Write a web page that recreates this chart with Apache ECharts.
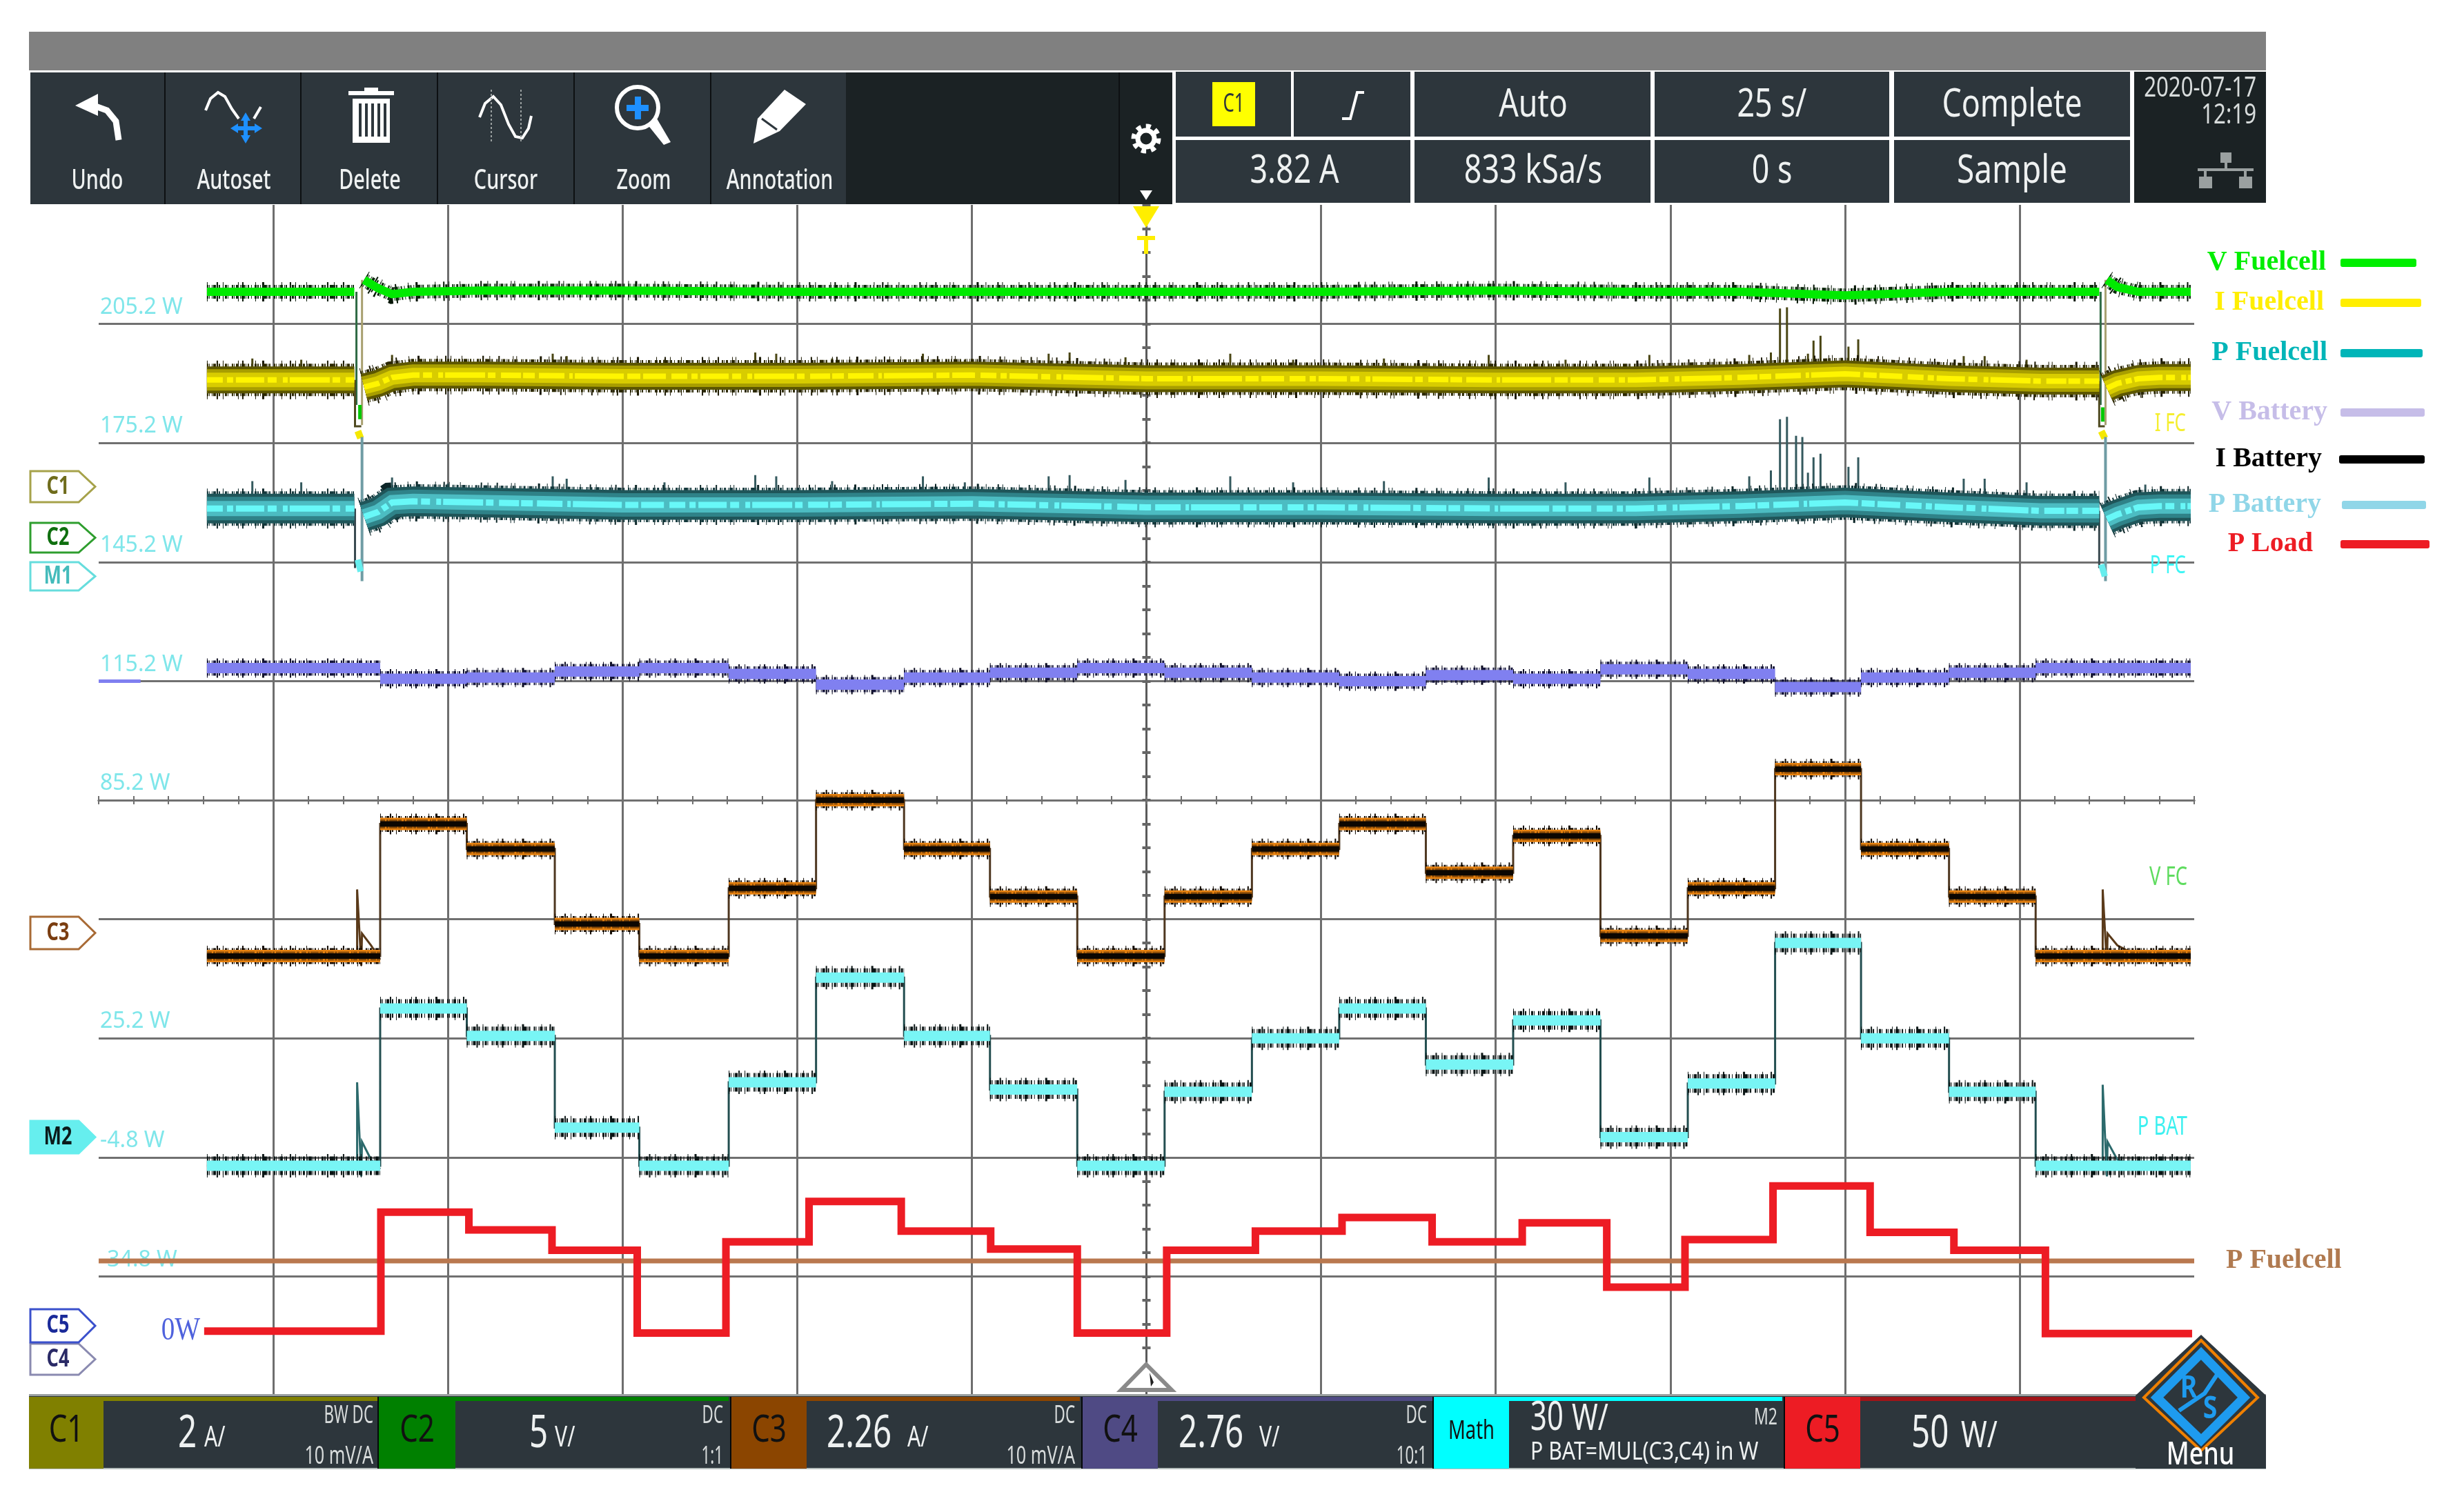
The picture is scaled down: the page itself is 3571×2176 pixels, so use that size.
<!doctype html>
<html>
<head>
    <meta charset="utf-8">
    <title>Fuelcell scope capture</title>
    <script src="https://cdn.jsdelivr.net/npm/echarts@6/dist/echarts.min.js"></script>
    <style>
        html, body { margin: 0; padding: 0; background: #fff; }
        #main { width: 3571px; height: 2176px; }
    </style>
</head>
<body>
    <div id="main"></div>
    <script type="text/javascript">
        // x is seconds (25 s/div), y is screen divisions from the centre line
        var yTickLabels = ['', '-34.8 W', '-4.8 W', '25.2 W', '', '85.2 W', '115.2 W', '145.2 W', '175.2 W', '205.2 W', ''];

        // fuel cell traces, centre of the noise band (null = no band during the pulse)
        var fcTimes = [-134.5, -120, -113.4, -112.9, -112, -110, -108, -105, -95, -75, -50, -25, 0, 25, 50, 70, 85, 100, 115, 128, 136.4, 136.8, 137.5, 139, 142, 145, 149.5];
        var vFuelcell = [4.27, 4.27, 4.27, null, 4.37, 4.30, 4.25, 4.27, 4.28, 4.28, 4.27, 4.27, 4.27, 4.27, 4.28, 4.27, 4.27, 4.24, 4.27, 4.27, 4.27, null, 4.37, 4.31, 4.27, 4.27, 4.27];
        var iFuelcell = [3.53, 3.53, 3.53, null, 3.47, 3.50, 3.55, 3.57, 3.57, 3.56, 3.56, 3.57, 3.54, 3.54, 3.53, 3.53, 3.55, 3.58, 3.54, 3.52, 3.52, null, 3.46, 3.50, 3.54, 3.55, 3.55];
        var pFuelcell = [2.45, 2.45, 2.45, null, 2.38, 2.42, 2.50, 2.51, 2.50, 2.48, 2.48, 2.49, 2.46, 2.46, 2.45, 2.45, 2.47, 2.50, 2.46, 2.43, 2.43, null, 2.36, 2.40, 2.46, 2.47, 2.47];

        // start up and shut down pulses, falling and rising edge
        var vFuelcellFall = [[-113.1, 4.27], [-113.1, 3.32], [-113.1, null], [136.6, 4.27], [136.6, 3.32]];
        var vFuelcellRise = [[-112.3, 3.15], [-112.3, 4.37], [-112.3, null], [137.3, 3.15], [137.3, 4.37]];
        var iFuelcellFall = [[-113.3, 3.53], [-113.3, 3.14], [-112.4, 3.14], [-112.4, null], [136.4, 3.52], [136.4, 3.14], [137.2, 3.14]];
        var pFuelcellFall = [[-113.3, 2.45], [-113.3, 1.95], [-113.3, null], [136.4, 2.43], [136.4, 1.95]];
        var pFuelcellRise = [[-112.3, 1.84], [-112.3, 3.05], [-112.3, null], [137.3, 1.84], [137.3, 3.05]];
        var vFuelcellBlob = [[-112.6, 3.32], [-112.6, 3.2], [-112.6, null], [136.9, 3.3], [136.9, 3.18]];
        var iFuelcellBlob = [[-112.9, 3.1], [-112.5, 3.04], [-112.5, null], [136.7, 3.1], [137.2, 3.04]];
        var pFuelcellBlob = [[-112.9, 2.02], [-112.5, 1.92], [-112.5, null], [136.7, 1.98], [137.2, 1.88]];

        // spikes standing out of the bands
        var iSpikeTimes = [-128, -121, -108, -100, -85, -83, -69, -56, -53, -45, -32, -26, -14, -11, -3, 12, 21, 34, 49, 60, 72, 86.3, 89.4, 90.7, 91.7, 94.7, 95.5, 96.5, 100.5, 101.9, 117, 120, 126, 143];
        var iSpikeTops = [3.71, 3.70, 3.74, 3.69, 3.75, 3.73, 3.70, 3.76, 3.75, 3.71, 3.75, 3.70, 3.75, 3.76, 3.72, 3.75, 3.70, 3.71, 3.74, 3.70, 3.74, 3.74, 3.76, 4.13, 4.14, 3.75, 3.86, 3.90, 3.81, 3.87, 3.73, 3.73, 3.70, 3.68];
        var pSpikeTimes = [-128, -121, -108, -100, -85, -83, -69, -56, -53, -45, -32, -26, -14, -11, -3, 12, 21, 34, 49, 60, 72, 86.3, 89.4, 90.7, 91.7, 93, 93.9, 94.7, 95.5, 96.5, 100.5, 101.9, 117, 120, 126, 143];
        var pSpikeTops = [2.68, 2.67, 2.71, 2.66, 2.72, 2.70, 2.67, 2.73, 2.72, 2.68, 2.72, 2.67, 2.72, 2.73, 2.69, 2.72, 2.67, 2.68, 2.71, 2.67, 2.71, 2.72, 2.77, 3.20, 3.22, 3.06, 3.05, 2.75, 2.88, 2.91, 2.80, 2.88, 2.70, 2.70, 2.67, 2.65];

        // battery traces, one level per load step
        var stepTimes = [-134.5, -109.7, -97.3, -84.7, -72.6, -59.8, -47.3, -34.7, -22.4, -9.9, 2.6, 15.1, 27.6, 40, 52.5, 65, 77.5, 90, 102.3, 114.9, 127.3, 149.5];
        var vBattery = [1.11, 1.02, 1.03, 1.08, 1.11, 1.06, 0.97, 1.03, 1.07, 1.11, 1.07, 1.03, 1.00, 1.05, 1.02, 1.10, 1.06, 0.95, 1.03, 1.07, 1.11];
        var iBattery = [-1.31, -0.20, -0.41, -1.04, -1.31, -0.74, 0.00, -0.41, -0.81, -1.31, -0.81, -0.41, -0.20, -0.61, -0.30, -1.14, -0.74, 0.26, -0.41, -0.81, -1.31];
        var pBattery = [-3.07, -1.75, -1.98, -2.75, -3.07, -2.37, -1.49, -1.98, -2.43, -3.07, -2.45, -2.00, -1.75, -2.22, -1.85, -2.83, -2.38, -1.20, -2.00, -2.45, -3.07];
        var iBatteryPulse = [[-113, -1.31], [-113, -0.75], [-112.4, -1.39], [-112.3, -1.12], [-111, -1.22], [-109.7, -1.34], [-109.7, null], [136.9, -1.31], [136.9, -0.75], [137.5, -1.39], [137.6, -1.12], [139, -1.22], [142, -1.31]];
        var pBatteryPulse = [[-113, -3.07], [-113, -2.37], [-112.4, -3.16], [-112.3, -2.87], [-111, -3.02], [-109.7, -3.10], [-109.7, null], [136.9, -3.07], [136.9, -2.39], [137.5, -3.16], [137.6, -2.87], [139, -3.02], [142, -3.08]];
        var vBatteryStubTimes = [-150, -144];
        var vBatteryStub = [1.0, 1.0];

        // load profile and the flat fuel cell power
        var loadTimes = [-134.9, -109.6, -97, -85.1, -72.9, -60.2, -48.3, -35.1, -22.3, -9.9, 2.9, 15.6, 28, 40.9, 53.8, 65.9, 77.1, 89.7, 103.6, 115.6, 128.7, 149.7];
        var pLoad = [-4.46, -3.46, -3.61, -3.78, -4.475, -3.71, -3.37, -3.62, -3.77, -4.475, -3.78, -3.62, -3.505, -3.71, -3.55, -4.09, -3.69, -3.24, -3.63, -3.78, -4.48];
        var pFuelcellTimes = [-150, 150];
        var pFuelcellFlat = [-3.87, -3.87];

        // dash patterns that give the strokes their grainy scope look
        var spikeDash = [1, 13, 2, 7, 1, 21, 1, 5, 2, 17, 1, 9, 3, 25, 1, 11, 2, 6, 1, 15, 1, 29, 2, 8, 1, 12, 2, 19, 1, 4, 1, 33, 3, 10, 1, 16, 2, 5, 1, 23];
        var grainDash = [2, 1, 1, 3, 1, 1, 4, 2, 1, 1, 2, 4, 1, 2, 3, 1, 1, 5, 2, 1, 1, 2, 3, 3, 1, 1, 5, 1, 1, 2, 2, 3, 1, 4, 3, 1, 2, 2, 1, 3, 6, 1, 1, 1, 2, 5];
        var mottleDash = [7, 2, 3, 1, 12, 1, 5, 3, 2, 2, 9, 1, 4, 1, 16, 3, 2, 1, 6, 2, 11, 1, 3, 2, 8, 1, 19, 2, 4, 3];
        var sheenDash = [23, 6, 9, 4, 41, 5, 13, 9, 7, 3, 58, 4, 11, 8, 29, 3, 17, 6, 37, 7, 5, 3, 71, 5, 19, 4, 33, 8];

        function curve(times, values) {
            return times.map(function (t, i) { return [t, values[i]]; });
        }
        function stairs(times, levels) {
            var out = [];
            levels.forEach(function (lv, i) { out.push([times[i], lv], [times[i + 1], lv]); });
            return out;
        }
        function treads(times, levels) {
            var out = [];
            levels.forEach(function (lv, i) { out.push([times[i], lv], [times[i + 1], lv], [times[i + 1], null]); });
            return out;
        }
        function spikes(times, tops, base) {
            var out = [];
            times.forEach(function (t, i) { out.push([t, base], [t, tops[i]], [t, null]); });
            return out;
        }
        function trace(name, data, color, width, dash, z) {
            return {
                name: name, type: 'line', data: data, symbol: 'none', silent: true, z: z || 3,
                animation: false, legendHoverLink: false,
                lineStyle: { color: color, width: width, type: dash || 'solid', join: 'miter', cap: 'butt' },
                itemStyle: { color: color }
            };
        }

        var vBand = curve(fcTimes, vFuelcell), iBand = curve(fcTimes, iFuelcell), pBand = curve(fcTimes, pFuelcell);
        var vTreads = treads(stepTimes, vBattery), iTreads = treads(stepTimes, iBattery), pTreads = treads(stepTimes, pBattery);

        var series = [
            trace('P Fuelcell (flat)', curve(pFuelcellTimes, pFuelcellFlat), '#b9784f', 7),

            trace('V Fuelcell', vFuelcellFall, '#2f6b45', 3),
            trace('V Fuelcell', vFuelcellRise, '#a8a070', 3),
            trace('V Fuelcell', vFuelcellBlob, '#00c800', 5),
            trace('V Fuelcell', vBand, '#051505', 28, spikeDash),
            trace('V Fuelcell', vBand, '#0c2a0c', 20, grainDash),
            trace('V Fuelcell', vBand, '#00ea00', 12),

            trace('I Fuelcell', iFuelcellFall, '#4f4a20', 3),
            trace('I Fuelcell', spikes(iSpikeTimes, iSpikeTops, 3.6), '#4a4614', 3),
            trace('I Fuelcell', iBand, '#1a1700', 56, spikeDash),
            trace('I Fuelcell', iBand, '#2b2700', 47, grainDash),
            trace('I Fuelcell', iBand, '#5c5600', 39),
            trace('I Fuelcell', iBand, '#a89e00', 31),
            trace('I Fuelcell', iBand, '#d8cc00', 21),
            trace('I Fuelcell', iBand, '#fff500', 8, sheenDash),
            trace('I Fuelcell', iFuelcellBlob, '#f5e800', 10),

            trace('P Fuelcell', pFuelcellFall, '#3a4a50', 3),
            trace('P Fuelcell', pFuelcellRise, '#6f9ca4', 4),
            trace('P Fuelcell', spikes(pSpikeTimes, pSpikeTops, 2.55), '#34595e', 3),
            trace('P Fuelcell', pBand, '#0d2628', 58, spikeDash),
            trace('P Fuelcell', pBand, '#14383c', 50, grainDash),
            trace('P Fuelcell', pBand, '#1f5559', 43),
            trace('P Fuelcell', pBand, '#2f8288', 34),
            trace('P Fuelcell', pBand, '#4cbcc2', 22),
            trace('P Fuelcell', pBand, '#68f8f8', 9, sheenDash),
            trace('P Fuelcell', pFuelcellBlob, '#66eeee', 9),

            trace('V Battery', curve(vBatteryStubTimes, vBatteryStub), '#7f7ff0', 5),
            trace('V Battery', vTreads, '#0c0c20', 28, spikeDash),
            trace('V Battery', vTreads, '#14143a', 22, grainDash),
            trace('V Battery', vTreads, '#8080f0', 15),

            trace('I Battery', stairs(stepTimes, iBattery), '#4e3720', 3),
            trace('I Battery', iBatteryPulse, '#5a3a1a', 3),
            trace('I Battery', iTreads, '#120a02', 30, spikeDash),
            trace('I Battery', iTreads, '#120a02', 23, grainDash),
            trace('I Battery', iTreads, '#e8820f', 18),
            trace('I Battery', iTreads, '#8a4c08', 13, mottleDash),
            trace('I Battery', iTreads, '#0c0702', 8),

            trace('P Battery', stairs(stepTimes, pBattery), '#234e50', 3),
            trace('P Battery', pBatteryPulse, '#2c6a6c', 3),
            trace('P Battery', pTreads, '#101a1a', 34, spikeDash),
            trace('P Battery', pTreads, '#0a1414', 27, grainDash),
            trace('P Battery', pTreads, '#78f5f5', 15),

            trace('P Load', stairs(loadTimes, pLoad), '#ed1c24', 11, null, 5)
        ];
        series[0].endLabel = {
            show: true, formatter: 'P Fuelcell', distance: 46, color: '#b07a50',
            fontFamily: 'Liberation Serif', fontWeight: 'bold', fontSize: 40
        };

        // legend on the right of the screen
        var legendNames = ['V Fuelcell', 'I Fuelcell', 'P Fuelcell', 'V Battery', 'I Battery', 'P Battery', 'P Load'];
        var legendColors = ['#00ee00', '#ffee00', '#00b5b8', '#c6bde8', '#000000', '#90d6e8', '#ed1c24'];
        var legendMiddles = [379, 437, 510, 596, 664, 730, 787];
        var legendTextEnds = [3368, 3365, 3370, 3370, 3362, 3361, 3349];
        var legendLineStarts = [3392, 3392, 3392, 3392, 3390, 3394, 3392];
        var legendLineEnds = [3502, 3509, 3511, 3514, 3514, 3516, 3521];
        var legends = legendNames.map(function (name, i) {
            return {
                data: [{ name: name, icon: 'roundRect', itemStyle: { color: legendColors[i] } }],
                align: 'right', orient: 'horizontal', selectedMode: false, padding: 0,
                right: 3571 - legendLineEnds[i], top: legendMiddles[i] - 18,
                itemWidth: legendLineEnds[i] - legendLineStarts[i], itemHeight: 12, itemGap: 0,
                textStyle: {
                    color: legendColors[i], fontFamily: 'Liberation Serif', fontWeight: 'bold', fontSize: 40,
                    padding: [0, legendLineStarts[i] - legendTextEnds[i] - 8, 0, 0]
                }
            };
        });

        // scope screen chrome
        var chrome = [];
        var panel = '#2d363c', panelDark = '#1b2224', label = '#eef1f1';
        function box(x0, y0, x1, y1, fill) {
            chrome.push({ type: 'rect', z: 10, silent: true, shape: { x: x0, y: y0, width: x1 - x0, height: y1 - y0 }, style: { fill: fill } });
        }
        function txt(x, y, s, size, fill, align, squeeze, weight) {
            chrome.push({
                type: 'text', z: 12, silent: true, x: x, y: y, scaleX: squeeze || 0.7,
                style: {
                    text: s, fill: fill, textAlign: align || 'center', textVerticalAlign: 'middle',
                    font: (weight || 'normal') + ' ' + size + 'px "Noto Sans"'
                }
            });
        }
        function poly(points, fill) {
            chrome.push({ type: 'polygon', z: 11, silent: true, shape: { points: points }, style: { fill: fill } });
        }
        function outline(points, stroke, width, closed, fill) {
            chrome.push({
                type: closed ? 'polygon' : 'polyline', z: 11, silent: true, shape: { points: points },
                style: { stroke: stroke, lineWidth: width, fill: fill || 'none' }
            });
        }

        box(42, 46, 3284, 102, '#808080');
        box(44, 105, 1226, 296, panel);
        box(1226, 105, 1699, 296, panelDark);
        box(1621, 105, 1623, 296, '#0d1012');
        [239, 436, 634, 832, 1030].forEach(function (x) { box(x - 1, 105, x + 1, 296, '#0d1012'); });
        [['Undo', 141], ['Autoset', 339], ['Delete', 536], ['Cursor', 733], ['Zoom', 933], ['Annotation', 1130]].forEach(function (b) {
            txt(b[1], 263, b[0], 40, label, 'center', 0.72, '500');
        });

        // toolbar icons
        outline([[133, 152], [155, 160], [168, 176], [172, 203]], '#fff', 9);
        poly([[109, 153], [142, 136], [142, 168]], '#fff');
        outline([[298, 160], [305, 143], [316, 134], [326, 140], [336, 158], [346, 172]], '#fff', 4);
        outline([[368, 172], [378, 155]], '#fff', 4);
        outline([[356, 172], [356, 200]], '#1e90ff', 6);
        outline([[340, 186], [374, 186]], '#1e90ff', 6);
        poly([[356, 163], [349, 175], [363, 175]], '#1e90ff');
        poly([[356, 208], [349, 196], [363, 196]], '#1e90ff');
        poly([[334, 186], [345, 179], [345, 193]], '#1e90ff');
        poly([[380, 186], [369, 179], [369, 193]], '#1e90ff');
        box(505, 132, 571, 138, '#fff');
        box(528, 127, 548, 133, '#fff');
        box(511, 143, 565, 207, '#fff');
        [520, 529, 538, 547, 556].forEach(function (x) { box(x, 150, x + 4, 198, panel); });
        outline([[695, 170], [703, 150], [715, 140], [726, 152], [737, 180], [747, 198], [757, 200], [766, 186], [770, 168]], '#fff', 4);
        chrome.push({ type: 'line', z: 11, silent: true, shape: { x1: 712, y1: 130, x2: 712, y2: 208 }, style: { stroke: '#9aa0a0', lineWidth: 2, lineDash: [3, 3] } });
        chrome.push({ type: 'line', z: 11, silent: true, shape: { x1: 755, y1: 130, x2: 755, y2: 208 }, style: { stroke: '#9aa0a0', lineWidth: 2, lineDash: [3, 3] } });
        chrome.push({ type: 'circle', z: 11, silent: true, shape: { cx: 924, cy: 156, r: 30 }, style: { stroke: '#fff', lineWidth: 6, fill: 'none' } });
        box(908, 152, 940, 161, '#1e90ff');
        box(920, 140, 929, 173, '#1e90ff');
        poly([[938, 180], [952, 172], [972, 206], [962, 210]], '#fff');
        poly([[1137, 130], [1168, 151], [1130, 190], [1092, 208], [1098, 172]], '#fff');
        outline([[1104, 172], [1126, 188]], panel, 3);

        // gear and drop down arrow
        chrome.push({ type: 'circle', z: 11, silent: true, shape: { cx: 1661, cy: 201, r: 18 }, style: { stroke: '#fff', lineWidth: 7, fill: 'none', lineDash: [7, 7] } });
        chrome.push({ type: 'circle', z: 11, silent: true, shape: { cx: 1661, cy: 201, r: 12 }, style: { stroke: '#fff', lineWidth: 7, fill: 'none' } });
        poly([[1652, 276], [1670, 276], [1661, 290]], '#fff');

        // acquisition panel
        [[1704, 104, 1871, 198], [1875, 104, 2044, 198], [2050, 104, 2392, 198], [2398, 104, 2738, 198], [2745, 104, 3087, 198],
            [1704, 203, 2044, 294], [2050, 203, 2392, 294], [2398, 203, 2738, 294], [2745, 203, 3087, 294]].forEach(function (c) {
                box(c[0], c[1], c[2], c[3], panel);
            });
        box(3093, 104, 3284, 294, panelDark);
        box(1757, 119, 1819, 183, '#ffff00');
        txt(1788, 151, 'C1', 38, '#2d363c', 'center', 0.68);
        outline([[1945, 172], [1957, 172], [1967, 134], [1977, 134]], '#fff', 4);
        txt(2222, 153, 'Auto', 56, label, 'center', 0.8);
        txt(2568, 153, '25 s/', 56, label, 'center', 0.8);
        txt(2916, 153, 'Complete', 56, label, 'center', 0.8);
        txt(1876, 249, '3.82 A', 56, label, 'center', 0.8);
        txt(2222, 249, '833 kSa/s', 56, label, 'center', 0.8);
        txt(2568, 249, '0 s', 56, label, 'center', 0.8);
        txt(2916, 249, 'Sample', 56, label, 'center', 0.82);
        txt(3270, 129, '2020-07-17', 40, '#d8dcdc', 'right', 0.78);
        txt(3270, 168, '12:19', 40, '#d8dcdc', 'right', 0.78);
        box(3218, 221, 3234, 236, '#9aa0a0');
        box(3224, 236, 3228, 246, '#9aa0a0');
        box(3185, 244, 3266, 248, '#9aa0a0');
        box(3194, 248, 3198, 256, '#9aa0a0');
        box(3252, 248, 3256, 256, '#9aa0a0');
        box(3187, 256, 3206, 273, '#9aa0a0');
        box(3245, 256, 3264, 273, '#9aa0a0');

        // trigger markers
        poly([[1642, 299], [1680, 299], [1661, 330]], '#ffee00');
        box(1648, 342, 1674, 348, '#ffee00');
        box(1658, 342, 1664, 368, '#ffee00');
        outline([[1661, 1978], [1625, 2015], [1698, 2015]], '#8a8a8a', 6, true, '#fff');
        poly([[1666, 1990], [1672, 2004], [1668, 2010]], '#222');

        // channel tags on the left
        function tag(y0, y1, s, stroke, fill, color) {
            var mid = (y0 + y1) / 2;
            outline([[44, y0], [114, y0], [138, mid], [114, y1], [44, y1]], stroke, 3, true, fill);
            txt(84, mid, s, 36, color, 'center', 0.75, 'bold');
        }
        tag(683, 728, 'C1', '#a6a24a', '#fff', '#6f6c1c');
        tag(758, 801, 'C2', '#2e9e2e', '#fff', '#0f6f0f');
        tag(815, 856, 'M1', '#66dddd', '#fff', '#44bbbb');
        tag(1329, 1376, 'C3', '#a86a35', '#fff', '#7a3d10');
        tag(1625, 1672, 'M2', '#66eeee', '#66eeee', '#0b1a1a');
        tag(1948, 1993, 'C4', '#8a8ab0', '#fff', '#2a2a66');
        tag(1898, 1946, 'C5', '#3a50cc', '#fff', '#1a2a99');

        // trace labels inside the grid
        txt(3168, 615, 'I FC', 36, '#f5ee30', 'right', 0.72);
        txt(3168, 821, 'P FC', 36, '#3df5f5', 'right', 0.72);
        txt(3170, 1272, 'V FC', 38, '#5fdc5f', 'right', 0.72);
        txt(3170, 1634, 'P BAT', 38, '#3df0f0', 'right', 0.72);
        chrome.push({
            type: 'text', z: 12, silent: true, x: 262, y: 1930, scaleX: 0.85,
            style: { text: '0W', fill: '#4f62dd', textAlign: 'center', textVerticalAlign: 'middle', font: '46px "Liberation Serif"' }
        });

        // channel bar at the bottom
        box(42, 2023, 3284, 2129, panel);
        box(42, 2021, 3284, 2024, '#9aa0a0');
        box(42, 2128, 3284, 2130, '#b4bcbc');
        [[42, 150, 549, '#808000', 'C1'], [549, 660, 1056, '#008000', 'C2'], [1060, 1169, 1565, '#8b4500', 'C3'],
            [1569, 1678, 2076, '#4f4a84', 'C4'], [2078, 2187, 2583, '#00ffff', 'Math'], [2587, 2696, 3100, '#ed1c24', 'C5']].forEach(function (c) {
                box(c[0], 2025, c[1], 2129, c[3]);
                box(c[1], 2025, c[2], 2031, c[0] === 2587 ? '#a01418' : c[3]);
                if (c[0] !== 42) { box(c[0] - 2, 2025, c[0], 2129, '#05080a'); }
                txt((c[0] + c[1]) / 2, 2075, c[4], c[4] === 'Math' ? 38 : 54, '#111', 'center', c[4] === 'Math' ? 0.72 : 0.78);
            });
        txt(258, 2079, '2', 66, label, 'left', 0.72);
        txt(296, 2085, 'A/', 42, label, 'left', 0.72);
        txt(541, 2053, 'BW DC', 36, '#d8dcdc', 'right', 0.62);
        txt(541, 2112, '10 mV/A', 36, '#d8dcdc', 'right', 0.7);
        txt(767, 2079, '5', 66, label, 'left', 0.72);
        txt(804, 2085, 'V/', 42, label, 'left', 0.72);
        txt(1048, 2053, 'DC', 36, '#d8dcdc', 'right', 0.62);
        txt(1048, 2112, '1:1', 36, '#d8dcdc', 'right', 0.62);
        txt(1198, 2079, '2.26', 66, label, 'left', 0.72);
        txt(1315, 2085, 'A/', 42, label, 'left', 0.72);
        txt(1558, 2053, 'DC', 36, '#d8dcdc', 'right', 0.62);
        txt(1558, 2112, '10 mV/A', 36, '#d8dcdc', 'right', 0.7);
        txt(1708, 2079, '2.76', 66, label, 'left', 0.72);
        txt(1825, 2085, 'V/', 42, label, 'left', 0.72);
        txt(2068, 2053, 'DC', 36, '#d8dcdc', 'right', 0.62);
        txt(2068, 2112, '10:1', 36, '#d8dcdc', 'right', 0.62);
        txt(2218, 2056, '30', 58, label, 'left', 0.72);
        txt(2278, 2058, 'W/', 52, label, 'left', 0.78);
        txt(2576, 2056, 'M2', 32, '#d8dcdc', 'right', 0.72);
        txt(2218, 2106, 'P BAT=MUL(C3,C4) in W', 36, label, 'left', 0.84);
        txt(2770, 2079, '50', 66, label, 'left', 0.72);
        txt(2842, 2083, 'W/', 52, label, 'left', 0.78);

        // logo
        poly([[3190, 1935], [3284, 2023], [3284, 2129], [3095, 2129], [3095, 2023]], panel);
        outline([[3190, 1943], [3272, 2026], [3190, 2103], [3107, 2026]], '#f08000', 4, true);
        outline([[3190, 1962], [3252, 2026], [3190, 2088], [3126, 2026]], '#1e9bef', 13, true);
        outline([[3213, 1993], [3195, 2020], [3158, 2045]], '#1e9bef', 6);
        txt(3172, 2013, 'R', 44, '#1e9bef', 'center', 0.85, 'bold');
        txt(3203, 2043, 'S', 44, '#1e9bef', 'center', 0.85, 'bold');
        txt(3189, 2110, 'Menu', 46, '#fff', 'center', 0.78, '500');

        var gridLine = { color: '#707070', width: 3 };
        function hiddenLabel() { return { show: false }; }
        function centreX(position) {
            return {
                type: 'value', min: -150, max: 150, interval: 25, position: position,
                axisLabel: hiddenLabel(), splitLine: { show: position === 'bottom', showMinLine: false, showMaxLine: false, lineStyle: { color: '#6e6e6e', width: 3 } },
                axisLine: { show: true, onZero: true, lineStyle: gridLine },
                axisTick: { show: true, inside: false, length: 6, lineStyle: { color: '#707070', width: 2 } },
                minorTick: { show: true, splitNumber: 5, length: 6, lineStyle: { color: '#707070', width: 2 } }
            };
        }
        function centreY(position) {
            return {
                type: 'value', min: -5, max: 5, interval: 1, position: position,
                axisLabel: hiddenLabel(), splitLine: { show: false },
                axisLine: { show: true, onZero: true, lineStyle: { color: '#5a5a5a', width: 3 } },
                axisTick: { show: true, length: 6, lineStyle: { color: '#666', width: 4 } },
                minorTick: { show: true, splitNumber: 5, length: 6, lineStyle: { color: '#666', width: 4 } }
            };
        }

        var myChart = echarts.init(document.getElementById('main'), null, { renderer: 'canvas' });
        myChart.setOption({
            backgroundColor: '#fff',
            animation: false,
            tooltip: { show: false },
            grid: { left: 143, right: 391, top: 297, bottom: 153, containLabel: false },
            xAxis: [centreX('bottom'), centreX('top')],
            yAxis: [
                {
                    type: 'value', min: -5, max: 5, interval: 1, position: 'left',
                    axisLine: { show: false, onZero: false },
                    axisTick: { show: false },
                    splitLine: { show: true, showMinLine: false, showMaxLine: false, lineStyle: gridLine },
                    axisLabel: {
                        inside: true, margin: 2, color: '#7fe6ea', fontSize: 32, verticalAlign: 'bottom',
                        fontFamily: '"Liberation Sans Narrow", "Noto Sans"', padding: [0, 0, 8, 0],
                        formatter: function (v) { return yTickLabels[v + 5]; }
                    }
                },
                centreY('left'),
                centreY('right')
            ],
            legend: legends,
            series: series,
            graphic: { elements: chrome }
        });
    </script>
</body>
</html>
